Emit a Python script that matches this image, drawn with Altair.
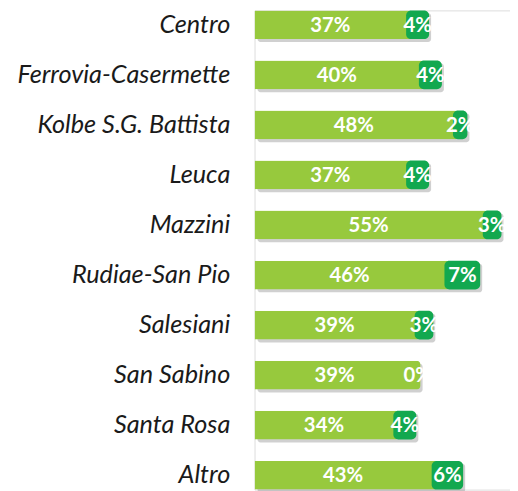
import altair as alt
import pandas as pd

zones = ["Centro", "Ferrovia-Casermette", "Kolbe S.G. Battista", "Leuca", "Mazzini",
         "Rudiae-San Pio", "Salesiani", "San Sabino", "Santa Rosa", "Altro"]
light = [37, 40, 48, 37, 55, 46, 39, 39, 34, 43]
dark = [4, 4, 2, 4, 3, 7, 3, 0, 4, 6]

df = pd.DataFrame({"zone": zones, "light": light, "dark": dark})
df["total"] = df["light"] + df["dark"]
df["zero"] = 0
df["light_mid"] = df["light"] / 2
df["dark_mid"] = df["light"] + df["dark"] / 2
df["light_lbl"] = df["light"].astype(str) + "%"
df["dark_lbl"] = df["dark"].astype(str) + "%"

LIGHT = "#97C93D"
DARK = "#12A84F"

y = alt.Y("zone:N", sort=zones, title=None,
          scale=alt.Scale(paddingInner=0.426, paddingOuter=0),
          axis=alt.Axis(domain=False, ticks=False, grid=False, labelPadding=25,
                        labelFont="Lato", labelFontSize=25.5, labelFontStyle="italic",
                        labelColor="#1a1a1a", labelLimit=400))
xs = alt.Scale(domain=[0, 60], nice=False)

base = alt.Chart(df)

shadow = base.mark_bar(color="#777777", opacity=0.35, cornerRadius=3,
                       xOffset=2, x2Offset=3, yOffset=3).encode(
    x=alt.X("total:Q", scale=xs, axis=None), x2="zero:Q", y=y)

light_bar = base.mark_bar(color=LIGHT, cornerRadiusEnd=4).encode(
    x=alt.X("light:Q", scale=xs, axis=None), y=y)

dark_bar = base.transform_filter("datum.dark > 0").mark_bar(
    color=DARK, cornerRadius=5, xOffset=-6).encode(
    x=alt.X("light:Q", scale=xs, axis=None), x2="total:Q", y=y)

txt_l = base.mark_text(color="white", font="Lato", fontWeight="bold", fontSize=20.5,
                       baseline="middle", dy=1, dx=-3).encode(
    x=alt.X("light_mid:Q", scale=xs, axis=None), y=y, text="light_lbl:N")

txt_d = base.mark_text(color="white", font="Lato", fontWeight="bold", fontSize=20.5,
                       baseline="middle", dy=1, dx=-3).encode(
    x=alt.X("dark_mid:Q", scale=xs, axis=None), y=y, text="dark_lbl:N")

chart = alt.layer(shadow, light_bar, dark_bar, txt_l, txt_d).properties(
    width=258, height=484,
    autosize=alt.AutoSizeParams(type="none"),
    padding={"left": 249, "top": 0, "right": 0, "bottom": 0},
).configure_view(stroke=None, strokeWidth=0).configure_axis(
    grid=False, domain=False, ticks=False
).configure(background="white")

chart.save("out.html", embed_options={"renderer": "svg", "actions": False})
